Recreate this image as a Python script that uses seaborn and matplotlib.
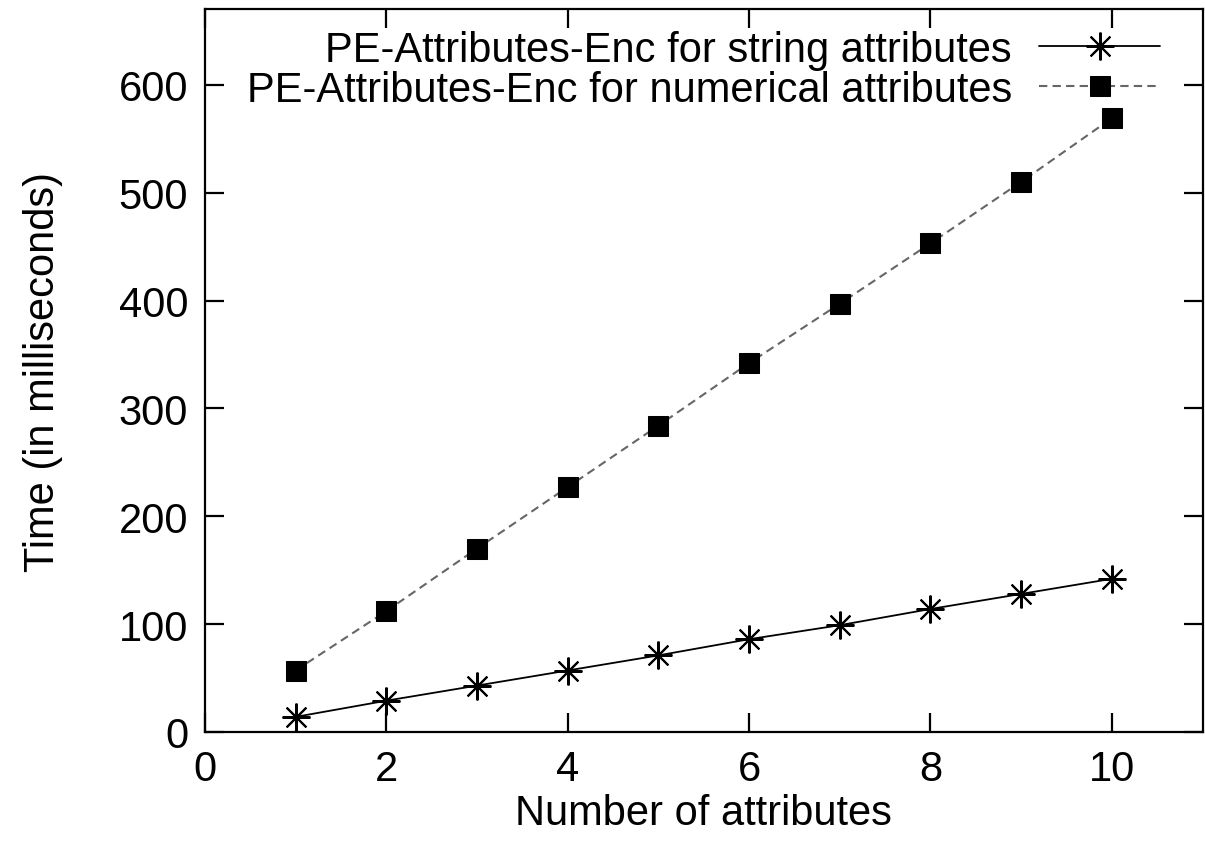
import numpy as np
import pandas as pd
import matplotlib
matplotlib.use("Agg")
import matplotlib.pyplot as plt
import seaborn as sns

# values
n_attributes = [1, 2, 3, 4, 5, 6, 7, 8, 9, 10]
string_ms = [14, 29, 43, 57, 71, 86, 99, 114, 128, 142]
numerical_ms = [57, 112, 170, 227, 284, 342, 397, 453, 510, 569]
label_string = "PE-Attributes-Enc for string attributes"
label_numerical = "PE-Attributes-Enc for numerical attributes"

sns.set_style("ticks")
plt.rcParams["font.family"] = ["Liberation Sans", "DejaVu Sans"]
plt.rcParams["text.color"] = "black"
plt.rcParams["axes.labelcolor"] = "black"
plt.rcParams["xtick.color"] = "black"
plt.rcParams["ytick.color"] = "black"
plt.rcParams["axes.edgecolor"] = "black"
fs = 30

df_str = pd.DataFrame({"x": n_attributes, "y": string_ms})
df_num = pd.DataFrame({"x": n_attributes, "y": numerical_ms})

fig = plt.figure(figsize=(12.05, 8.54), dpi=100)
ax = fig.add_axes([0.170, 0.1417, 0.828, 0.8463])

sns.lineplot(data=df_str, x="x", y="y", ax=ax, color="black", lw=1.3,
             marker=(8, 2, 0), markersize=20, markeredgewidth=1.5,
             markeredgecolor="black", label=label_string)
sns.lineplot(data=df_num, x="x", y="y", ax=ax, color="#666666", lw=1.5,
             linestyle=(0, (4, 2.5)), marker="s", markersize=15,
             markerfacecolor="black", markeredgecolor="black",
             label=label_numerical)

ax.set_xlim(0, 11)
ax.set_ylim(0, 670)
ax.set_xticks([0, 2, 4, 6, 8, 10])
ax.set_yticks([0, 100, 200, 300, 400, 500, 600])
ax.set_xlabel("Number of attributes", fontsize=fs, labelpad=3)
ax.set_ylabel("Time (in milliseconds)", fontsize=fs, labelpad=40)

ax.tick_params(direction="in", length=14, width=1.6, top=True, right=True,
               labelsize=fs, pad=12)
for s in ax.spines.values():
    s.set_linewidth(1.6)
    s.set_visible(True)

leg = ax.legend(loc="upper right", frameon=False, markerfirst=False,
                fontsize=fs, handlelength=2.9, handletextpad=0.65,
                labelspacing=0.0, borderaxespad=0.0,
                bbox_to_anchor=(0.974, 0.995))
for t in leg.get_texts():
    t.set_ha("right")
leg._legend_box.align = "right"

fig.savefig("out.png", dpi=100)
